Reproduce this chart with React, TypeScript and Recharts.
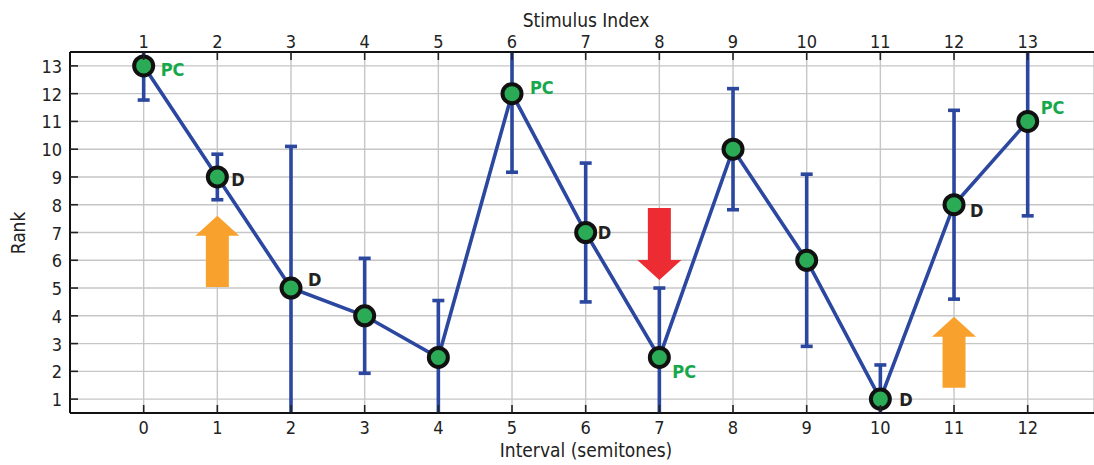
import React from 'react';
import {
  ComposedChart,
  Line,
  XAxis,
  YAxis,
  CartesianGrid,
  LabelList,
  ReferenceLine,
  Label,
} from 'recharts';

// bottom axis: interval in semitones, top axis: stimulus index
const intervals = [0, 1, 2, 3, 4, 5, 6, 7, 8, 9, 10, 11, 12];
const stimulusIndex = [1, 2, 3, 4, 5, 6, 7, 8, 9, 10, 11, 12, 13];
const rankTicks = [1, 2, 3, 4, 5, 6, 7, 8, 9, 10, 11, 12, 13];

// mean rank and +/- error for each interval
const ranks = [13, 9, 5, 4, 2.5, 12, 7, 2.5, 10, 6, 1, 8, 11];
const rankErrors = [1.23, 0.82, 5.1, 2.07, 2.05, 2.83, 2.5, 2.5, 2.18, 3.1, 1.23, 3.4, 3.4];
const pointTags = ['PC', 'D', 'D', '', '', 'PC', 'D', 'PC', '', '', 'D', 'D', 'PC'];

// annotation arrows (x, tail rank, tip rank)
const arrowX = [1, 7, 11];
const arrowFrom = [5.04, 7.88, 1.41];
const arrowTo = [7.6, 5.29, 3.97];

const data = intervals.map((iv, i) => ({
  interval: iv,
  rank: ranks[i],
  err: rankErrors[i],
  tag: pointTags[i],
}));

const BLUE = '#2b479f';
const GREEN = '#2bab55';
const PC_GREEN = '#17a84b';
const arrowColors = ['#f8a22d', '#ec2b33', '#f8a22d'];
const FONT = "'DejaVu Sans Condensed', 'DejaVu Sans', sans-serif";
const TEXT = '#222';
const textStyle = { fontStretch: 'condensed' as const };

// where each tag sits relative to its point (dx, baseline dy)
const tagOffsets: Record<number, [number, number]> = {
  0: [17, 10],
  1: [14, 9],
  2: [17, -2],
  5: [18, 0],
  6: [12, 6],
  7: [13, 21],
  10: [19, 7],
  11: [16, 12],
  12: [13, -7],
};

const BottomTick = (props: any) => {
  const { x, y, payload } = props;
  return (
    <g>
      <line x1={x} x2={x} y1={y} y2={y - 8} stroke="#222" strokeWidth={1.6} />
      <text x={x} y={y + 21} textAnchor="middle" fontFamily={FONT} style={textStyle} fontSize={18} fill={TEXT}>
        {payload.value}
      </text>
    </g>
  );
};

const TopTick = (props: any) => {
  const { x, y, payload } = props;
  return (
    <g>
      <line x1={x} x2={x} y1={y} y2={y + 8} stroke="#222" strokeWidth={1.6} />
      <text x={x} y={y - 4} textAnchor="middle" fontFamily={FONT} style={textStyle} fontSize={18} fill={TEXT}>
        {stimulusIndex[payload.value] ?? ''}
      </text>
    </g>
  );
};

const LeftTick = (props: any) => {
  const { x, y, payload } = props;
  return (
    <g>
      <line x1={x} x2={x + 8} y1={y} y2={y} stroke="#222" strokeWidth={1.6} />
      <text x={x - 8} y={y + 7} textAnchor="end" fontFamily={FONT} style={textStyle} fontSize={18} fill={TEXT}>
        {payload.value}
      </text>
    </g>
  );
};

const renderTag = (props: any) => {
  const { x, y, value, index } = props;
  if (!value) return null;
  const off = tagOffsets[index] || [15, 6];
  return (
    <text
      x={x + off[0]}
      y={y + off[1]}
      fontFamily={FONT}
      style={textStyle}
      fontWeight="bold"
      fontSize={18}
      fill={value === 'PC' ? PC_GREEN : TEXT}
    >
      {value}
    </text>
  );
};

// vertical error bar with caps, clipped to the plot area
const errorShape = (props: any) => {
  const { x1, y1, y2, clipPath } = props;
  const cap = 6;
  return (
    <g clipPath={clipPath} stroke={BLUE} strokeWidth={3.6}>
      <line x1={x1} x2={x1} y1={y1} y2={y2} />
      <line x1={x1 - cap} x2={x1 + cap} y1={y1} y2={y1} />
      <line x1={x1 - cap} x2={x1 + cap} y1={y2} y2={y2} />
    </g>
  );
};

const arrowShape = (color: string) => (props: any) => {
  const { x1, y1, y2 } = props;
  const dir = y2 < y1 ? -1 : 1;
  const shaft = 11.5;
  const head = 22;
  const headLen = 20;
  const baseY = y2 - dir * headLen;
  const pts = [
    [x1 - shaft, y1],
    [x1 + shaft, y1],
    [x1 + shaft, baseY],
    [x1 + head, baseY],
    [x1, y2],
    [x1 - head, baseY],
    [x1 - shaft, baseY],
  ]
    .map((p) => p.join(','))
    .join(' ');
  return <polygon points={pts} fill={color} />;
};

export default function App() {
  return (
    <div style={{ position: 'absolute', left: 0, top: 0, background: '#fff' }}>
      <ComposedChart
        width={1094}
        height={465}
        data={data}
        margin={{ top: 0, right: 0, bottom: 0, left: 0 }}
      >
        <CartesianGrid stroke="#c6c6c6" strokeWidth={1.4} />
        <XAxis
          dataKey="interval"
          type="number"
          domain={[-1, 12.9]}
          allowDataOverflow
          ticks={intervals}
          interval={0}
          height={52}
          tickSize={0}
          tickMargin={0}
          tickLine={false}
          tick={<BottomTick />}
          axisLine={{ stroke: '#111', strokeWidth: 2 }}
        >
          <Label
            content={(p: any) => {
              const vb = p.viewBox;
              return (
                <text x={586} y={vb.y + 44} textAnchor="middle" fontFamily={FONT} style={textStyle} fontSize={19} fill={TEXT}>
                  Interval (semitones)
                </text>
              );
            }}
          />
        </XAxis>
        <XAxis
          xAxisId="top"
          dataKey="interval"
          orientation="top"
          type="number"
          domain={[-1, 12.9]}
          allowDataOverflow
          ticks={intervals}
          interval={0}
          height={52}
          tickSize={0}
          tickMargin={0}
          tickLine={false}
          tick={<TopTick />}
          axisLine={{ stroke: '#111', strokeWidth: 2 }}
        >
          <Label
            content={() => (
              <text x={586} y={27} textAnchor="middle" fontFamily={FONT} style={textStyle} fontSize={19} fill={TEXT}>
                Stimulus Index
              </text>
            )}
          />
        </XAxis>
        <YAxis
          type="number"
          domain={[0.5, 13.5]}
          allowDataOverflow
          ticks={rankTicks}
          interval={0}
          width={70}
          tickSize={0}
          tickMargin={0}
          tickLine={false}
          tick={<LeftTick />}
          axisLine={{ stroke: '#111', strokeWidth: 2 }}
        >
          <Label
            content={() => (
              <text
                x={0}
                y={0}
                transform="translate(25, 233) rotate(-90)"
                textAnchor="middle"
                fontFamily={FONT}
                style={textStyle}
                fontSize={19}
                fill={TEXT}
              >
                Rank
              </text>
            )}
          />
        </YAxis>
        {arrowX.map((ax, i) => (
          <ReferenceLine
            key={'arrow' + i}
            segment={[
              { x: ax, y: arrowFrom[i] },
              { x: ax, y: arrowTo[i] },
            ]}
            ifOverflow="visible"
            shape={arrowShape(arrowColors[i])}
          />
        ))}
        {intervals.map((iv, i) => (
          <ReferenceLine
            key={'err' + i}
            segment={[
              { x: iv, y: ranks[i] - rankErrors[i] },
              { x: iv, y: ranks[i] + rankErrors[i] },
            ]}
            ifOverflow="hidden"
            shape={errorShape}
          />
        ))}
        {/* hidden series so the top axis shares the same scale */}
        <Line
          xAxisId="top"
          dataKey="rank"
          stroke="none"
          dot={false}
          activeDot={false}
          legendType="none"
          isAnimationActive={false}
        />
        <Line
          dataKey="rank"
          stroke={BLUE}
          strokeWidth={3.6}
          isAnimationActive={false}
          dot={{ r: 9.5, fill: GREEN, stroke: '#111', strokeWidth: 4 }}
          activeDot={false}
        >
          <LabelList dataKey="tag" content={renderTag} />
        </Line>
      </ComposedChart>
    </div>
  );
}
